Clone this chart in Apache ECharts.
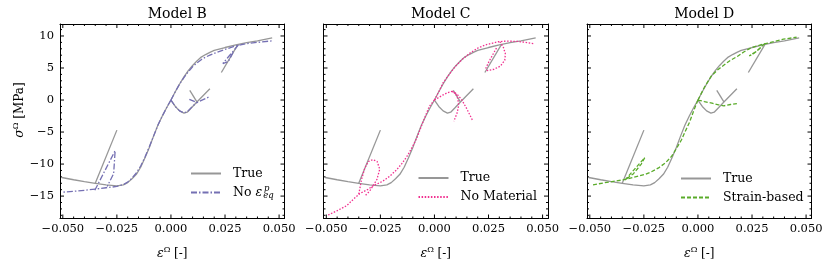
<!DOCTYPE html>
<html>
<head>
<meta charset="utf-8">
<script src="https://cdn.jsdelivr.net/npm/echarts@6/dist/echarts.min.js"></script>
<style>
  html, body { margin: 0; padding: 0; background: #fff; }
  #chart { width: 830px; height: 265px; }
</style>
</head>
<body>
<div id="chart"></div>
<script>
// ---- ticks ----
var xMajorTicks = [-0.05, -0.025, 0, 0.025, 0.05];
var xMinorTicks = [-0.045, -0.04, -0.035, -0.03, -0.02, -0.015, -0.01, -0.005,
                   0.005, 0.01, 0.015, 0.02, 0.03, 0.035, 0.04, 0.045];
var yMajorTicks = [-15, -10, -5, 0, 5, 10];
var yMinorTicks = [-18, -17, -16, -14, -13, -12, -11, -9, -8, -7, -6, -4, -3, -2, -1,
                   1, 2, 3, 4, 6, 7, 8, 9, 11];
var xRange = [-0.0513, 0.0525];
var yRange = [-18.5, 11.87];

var panelTitles = ['Model B', 'Model C', 'Model D'];
var modelNames = ['No eps_p_eq', 'No Material', 'Strain-based'];

// ---- True response (same in every panel) ----
var trueComp = [[0,0],[-0.002,-1.2],[-0.004,-2.5],[-0.006,-3.9],[-0.008,-5.6],[-0.01,-7.4],[-0.012,-9.0],
  [-0.014,-10.5],[-0.016,-11.6],[-0.018,-12.3],[-0.02,-12.9],[-0.022,-13.25],[-0.025,-13.4],[-0.03,-13.25],
  [-0.035,-13.0],[-0.04,-12.75],[-0.045,-12.45],[-0.0505,-12.1]];
var trueCompUnload = [[-0.035,-13.0],[-0.025,-4.7]];
var trueTens = [[0,0],[0.002,1.3],[0.004,2.5],[0.006,3.6],[0.008,4.6],[0.01,5.4],[0.012,6.1],[0.014,6.7],
  [0.016,7.1],[0.018,7.45],[0.02,7.75],[0.025,8.2],[0.03,8.6],[0.035,8.95],[0.04,9.25],[0.0468,9.7]];
var trueTensUnload = [[0.031,8.68],[0.0233,4.3]];
var trueKink = [[0,0],[0.002,-1.0],[0.004,-1.7],[0.006,-2.05],[0.0075,-1.9],[0.0095,-1.2],[0.012,-0.3],[0.018,1.75]];
var trueKinkB = [[0.0087,1.5],[0.012,-0.3]];

// ---- Model B: No eps_p_eq ----
var bComp = [[0,0],[-0.002,-1.2],[-0.004,-2.5],[-0.006,-3.9],[-0.008,-5.6],[-0.01,-7.3],[-0.012,-8.9],
  [-0.014,-10.3],[-0.016,-11.4],[-0.018,-12.2],[-0.02,-12.8],[-0.022,-13.2],[-0.025,-13.5],[-0.03,-13.7],
  [-0.035,-13.9],[-0.04,-14.1],[-0.045,-14.25],[-0.0505,-14.4]];
var bCompUnload = [[-0.0352,-14.1],[-0.0258,-7.9],[-0.025,-8.1],[-0.0265,-11.5],[-0.0295,-13.5]];
var bTens = [[0,0],[0.002,1.3],[0.004,2.5],[0.006,3.5],[0.008,4.4],[0.01,5.2],[0.012,5.8],[0.014,6.3],
  [0.016,6.7],[0.018,7.0],[0.02,7.3],[0.025,7.9],[0.03,8.45],[0.035,8.8],[0.04,9.0],[0.047,9.25]];
var bTensUnload = [[0.0312,8.6],[0.0262,6.6],[0.024,5.7],[0.0248,5.4],[0.0265,6.0],[0.029,7.6]];
var bKink = [[0,0],[0.002,-1.0],[0.004,-1.7],[0.006,-2.0],[0.0075,-1.85],[0.0095,-1.15],[0.012,-0.35]];
var bKinkB = [[0.0085,0.1],[0.012,-0.4],[0.018,0.55]];

// ---- Model C: No Material ----
var cComp = [[0,0],[-0.0024,-1.0],[-0.0055,-3.6],[-0.008,-5.8],[-0.01,-7.2],[-0.0125,-8.7],[-0.015,-9.9],
  [-0.0175,-10.9],[-0.0207,-11.9],[-0.024,-12.7],[-0.0284,-13.4],[-0.031,-14.0],[-0.0345,-14.6],
  [-0.0375,-15.5],[-0.0406,-16.5],[-0.0451,-17.3],[-0.0494,-18.0]];
var cCompLoop = [[-0.035,-14.7],[-0.0337,-12.4],[-0.0322,-10.6],[-0.0305,-9.6],[-0.0285,-9.3],[-0.0265,-9.6],
  [-0.0253,-10.8],[-0.0266,-12.4],[-0.0299,-14.2],[-0.0322,-15.0]];
var cTens = [[0,0],[0.002,1.3],[0.004,2.7],[0.007,4.1],[0.0098,5.3],[0.013,6.4],[0.0167,7.4],[0.02,8.1],
  [0.0235,8.6],[0.027,8.9],[0.0296,9.1],[0.033,9.2],[0.0388,9.15],[0.042,9.0],[0.0457,8.8]];
var cTensLoop = [[0.0302,9.1],[0.0318,8.3],[0.0328,7.2],[0.0325,6.2],[0.0305,5.3],[0.0275,4.8],
  [0.0245,4.6],[0.0238,5.0],[0.0252,6.0],[0.027,7.1],[0.0288,8.2]];
var cKink = [[0,0],[0.002,0.4],[0.004,0.8],[0.006,1.15],[0.0082,1.35],[0.0098,1.0],[0.0108,0.2],
  [0.0112,-0.8],[0.0105,-2.0],[0.009,-3.3]];
var cKinkB = [[0.0082,1.35],[0.0105,0.9],[0.0127,0],[0.015,-1.4],[0.0175,-3.1]];

// ---- Model D: Strain-based ----
var dComp = [[0,0],[-0.002,-1.7],[-0.0038,-3.4],[-0.006,-5.0],[-0.0076,-6.2],[-0.01,-7.6],[-0.0122,-8.8],
  [-0.015,-9.8],[-0.0182,-10.6],[-0.0215,-11.2],[-0.0243,-11.6],[-0.029,-12.0],[-0.0334,-12.4],
  [-0.038,-12.65],[-0.043,-12.9],[-0.0494,-13.3]];
var dCompSpike = [[-0.0338,-12.5],[-0.0246,-9.0],[-0.0262,-10.0],[-0.0298,-11.5],[-0.0338,-12.5]];
var dTens = [[0,0],[0.003,2.0],[0.0061,3.7],[0.009,4.7],[0.0122,5.5],[0.015,6.2],[0.0182,6.8],[0.0212,7.5],
  [0.0243,8.1],[0.0275,8.45],[0.0304,8.75],[0.035,9.1],[0.0395,9.5],[0.0456,9.8]];
var dTensSpike = [[0.0308,8.8],[0.027,7.6],[0.0237,6.9],[0.0255,7.2],[0.0285,8.0],[0.0308,8.8]];
var dKink = [[0,0],[0.003,-0.25],[0.0065,-0.5],[0.0095,-0.75],[0.012,-0.9],[0.015,-0.7],[0.018,-0.55]];

var trueBranches = [trueComp, trueCompUnload, trueTens, trueTensUnload, trueKink, trueKinkB];
var modelBranches = [
  [bComp, bCompUnload, bTens, bTensUnload, bKink, bKinkB],
  [cComp, cCompLoop, cTens, cTensLoop, cKink, cKinkB],
  [dComp, dCompSpike, dTens, dTensSpike, dKink]
];

// ---- layout / style ----
var SERIF = 'DejaVu Serif';
var gridLeft = [60, 323.5, 587];
var gridTop = 24, gridW = 224.5, gridH = 195;
var trueColor = '#979797';
var modelColors = ['#7570b3', '#f0308f', '#5aab2a'];
var modelDash = [[6, 2, 1.5, 2], [1.5, 1.6], [4, 2]];
var legendLeft = [190, 417.5, 680];
var legendTop = [167, 171.5, 172];
var MAJOR_LEN = 4, MINOR_LEN = 2;

function fmtX(v) {
  if (Math.abs(v) < 1e-9) return '0.000';
  return (v < 0 ? '\u2212' : '') + Math.abs(v).toFixed(3);
}
function fmtY(v) {
  return (v < 0 ? '\u2212' : '') + Math.abs(v);
}

var supRich = {
  e: { fontFamily: SERIF, fontStyle: 'italic', fontSize: 12.5, color: '#000' },
  s: { fontFamily: SERIF, fontSize: 8, color: '#000', padding: [0, 0, 8, 0] }
};

// tick marks: [value, length]
var xTickData = xMajorTicks.map(function (v) { return [v, MAJOR_LEN]; })
  .concat(xMinorTicks.map(function (v) { return [v, MINOR_LEN]; }));
var yTickData = yMajorTicks.map(function (v) { return [v, MAJOR_LEN]; })
  .concat(yMinorTicks.map(function (v) { return [v, MINOR_LEN]; }));

function tickLine(x1, y1, x2, y2) {
  return { type: 'line', shape: { x1: x1, y1: y1, x2: x2, y2: y2 },
           style: { stroke: '#000', lineWidth: 1 } };
}
function renderXTicks(params, api) {
  var v = api.value(0), len = api.value(1);
  var b = api.coord([v, yRange[0]]), t = api.coord([v, yRange[1]]);
  return { type: 'group', children: [tickLine(b[0], b[1], b[0], b[1] - len), tickLine(t[0], t[1], t[0], t[1] + len)] };
}
function renderYTicks(params, api) {
  var v = api.value(0), len = api.value(1);
  var l = api.coord([xRange[0], v]), r = api.coord([xRange[1], v]);
  return { type: 'group', children: [tickLine(l[0], l[1], l[0] + len, l[1]), tickLine(r[0], r[1], r[0] - len, r[1])] };
}

var grids = [], xAxes = [], yAxes = [], series = [], legends = [], titles = [];

function frameAxis(kind, g, pos, showLabel, name) {
  var range = kind === 'x' ? xRange : yRange;
  var ax = {
    type: 'value', gridIndex: g, position: pos,
    min: range[0], max: range[1],
    axisLine: { show: true, onZero: false, lineStyle: { color: '#000', width: 1 } },
    splitLine: { show: false },
    axisTick: { show: false },
    axisLabel: { show: false }
  };
  if (showLabel) {
    ax.axisLabel = {
      show: true, customValues: kind === 'x' ? xMajorTicks : yMajorTicks,
      formatter: kind === 'x' ? fmtX : fmtY,
      margin: kind === 'x' ? 5 : 6,
      color: '#000', fontFamily: SERIF, fontSize: 11.5
    };
  }
  if (name) {
    ax.name = name;
    ax.nameLocation = 'middle';
    ax.nameGap = 27;
    ax.nameTextStyle = { fontFamily: SERIF, fontSize: 12, color: '#000', rich: supRich };
  }
  return ax;
}

for (var i = 0; i < 3; i++) {
  grids.push({ left: gridLeft[i], top: gridTop, width: gridW, height: gridH });

  xAxes.push(frameAxis('x', i, 'bottom', true, '{e|\u03b5}{s|\u03a9} [-]'));
  xAxes.push(frameAxis('x', i, 'top', false));
  yAxes.push(frameAxis('y', i, 'left', i === 0));
  yAxes.push(frameAxis('y', i, 'right', false));

  titles.push({ text: panelTitles[i], left: gridLeft[i] + gridW / 2, top: 2, textAlign: 'center',
                textStyle: { fontFamily: SERIF, fontSize: 14, fontWeight: 'normal', color: '#000' } });

  trueBranches.forEach(function (b) {
    series.push({ name: 'True', type: 'line', xAxisIndex: 2 * i, yAxisIndex: 2 * i,
      data: b, symbol: 'none', showSymbol: false, z: 2,
      lineStyle: { color: trueColor, width: 1.3 }, itemStyle: { color: trueColor } });
  });
  modelBranches[i].forEach(function (b) {
    series.push({ name: modelNames[i], type: 'line', xAxisIndex: 2 * i, yAxisIndex: 2 * i,
      data: b, symbol: 'none', showSymbol: false, z: 3,
      lineStyle: { color: modelColors[i], width: 1.3, type: modelDash[i] },
      itemStyle: { color: modelColors[i] } });
  });

  // inward tick marks on all four sides
  series.push({ type: 'custom', xAxisIndex: 2 * i, yAxisIndex: 2 * i, silent: true, z: 5,
    encode: { x: 0 }, data: xTickData, renderItem: renderXTicks });
  series.push({ type: 'custom', xAxisIndex: 2 * i, yAxisIndex: 2 * i, silent: true, z: 5,
    encode: { y: 0 }, data: yTickData, renderItem: renderYTicks });

  legends.push({
    data: ['True', modelNames[i]], orient: 'vertical', left: legendLeft[i], top: legendTop[i],
    itemWidth: 30, itemHeight: 14, itemGap: 6, padding: 0, selectedMode: false,
    itemStyle: { color: 'transparent', borderColor: 'transparent', borderWidth: 0, opacity: 0 },
    formatter: function (n) {
      return n === 'No eps_p_eq' ? '{t|No }{e|\u03b5}{q|eq}' : '{t|' + n + '}';
    },
    textStyle: {
      color: '#000', fontFamily: SERIF, fontSize: 12.5, padding: [0, 0, 0, 7],
      rich: {
        t: { fontFamily: SERIF, fontSize: 12.5, color: '#000', lineHeight: 14 },
        e: { fontFamily: SERIF, fontSize: 12.5, fontStyle: 'italic', color: '#000', lineHeight: 14 },
        q: { fontFamily: SERIF, fontSize: 8.5, fontStyle: 'italic', color: '#000', padding: [7, 0, 0, 1] }
      }
    }
  });
}

var chart = echarts.init(document.getElementById('chart'));
chart.setOption({
  animation: false,
  title: titles,
  grid: grids,
  xAxis: xAxes,
  yAxis: yAxes,
  legend: legends,
  series: series,
  graphic: [
    { type: 'text', x: 20, y: 110, rotation: Math.PI / 2,
      style: { text: '{e|\u03c3}{s|\u03a9} [MPa]', fontFamily: SERIF, fontSize: 12, fill: '#000',
               align: 'center', verticalAlign: 'middle', rich: supRich } },
    { type: 'text', x: 264, y: 184,
      style: { text: 'p', fontFamily: SERIF, fontStyle: 'italic', fontSize: 8.5, fill: '#000' } }
  ]
});
</script>
</body>
</html>
